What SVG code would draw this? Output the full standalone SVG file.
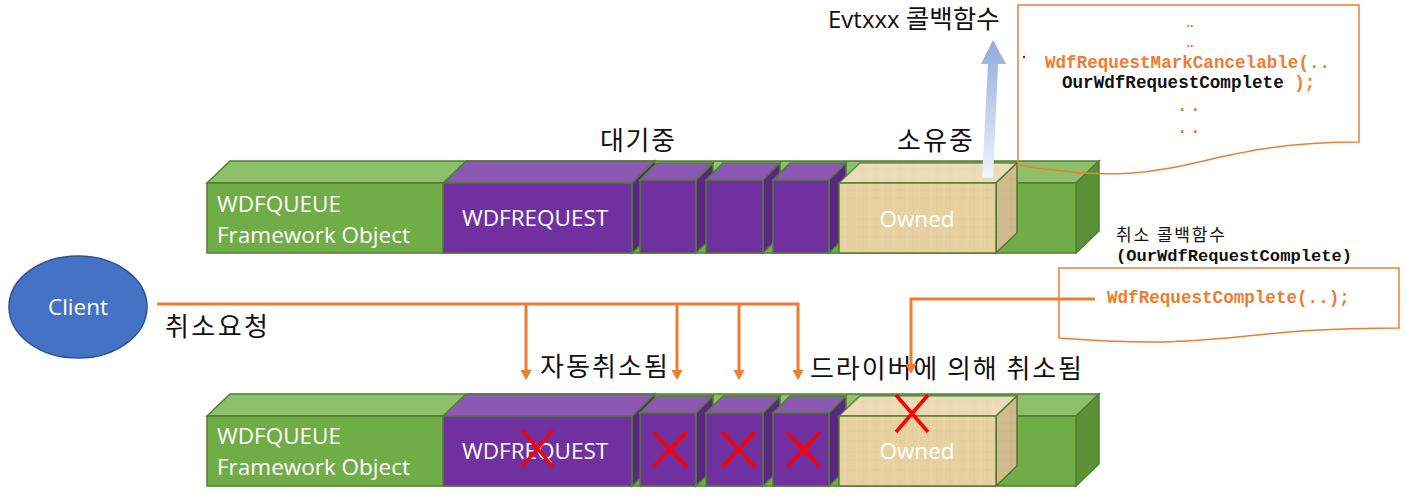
<svg xmlns="http://www.w3.org/2000/svg" width="1406" height="497" viewBox="0 0 1406 497">
<style>
.g-front{fill:#70AD47;stroke:#507E32;stroke-width:1.5}
.g-top{fill:#8CC06B;stroke:#507E32;stroke-width:1.5}
.g-side{fill:#5B9137;stroke:#507E32;stroke-width:1.5}
.p-front{fill:#7030A0;stroke:#507E32;stroke-width:1.5}
.p-top{fill:#8C58B4;stroke:#507E32;stroke-width:1.5}
.p-side{fill:#5A2683;stroke:#507E32;stroke-width:1.5}
.o-face{fill:url(#papyrus);stroke:#507E32;stroke-width:1.5}
.lite{fill:#FFFFFF;opacity:0.22}
.dark{fill:#5A4020;opacity:0.16}
.lbl{font-family:"Open Sans","Noto Sans",sans-serif;font-size:22.5px;fill:#FFFFFF}
.kr{font-family:"Noto Sans CJK KR",sans-serif;font-size:26px;fill:#111111}
.mono{font-family:"Liberation Mono","Courier New",monospace;font-weight:bold;font-size:17.6px}
.or{fill:#ED7D31}
.bk{fill:#111111}
.conn{fill:none;stroke:#ED7D31;stroke-width:3}
.doc{fill:none;stroke:#ED7D31;stroke-width:1.5}
.x{stroke:#FF0000;stroke-width:3.5;stroke-linecap:butt}
</style>
<defs>
<marker id="ah" viewBox="0 0 10 11" refX="1" refY="5.5" markerWidth="10" markerHeight="11" markerUnits="userSpaceOnUse" orient="auto">
<path d="M0,0 L10,5.5 L0,11 Z" fill="#ED7D31"/>
</marker>
<pattern id="papyrus" patternUnits="userSpaceOnUse" width="37" height="29">
<rect width="37" height="29" fill="#E7D1A0"/>
<path d="M0,5 H37 M0,16 H37 M0,24 H37" stroke="#D6BC86" stroke-width="0.7" opacity="0.25"/>
<path d="M6,0 V29 M19,0 V29 M31,0 V29" stroke="#F1E2BE" stroke-width="0.8" opacity="0.35"/>
<path d="M12,0 V29 M25,0 V29" stroke="#D0B37C" stroke-width="0.6" opacity="0.2"/>
</pattern>
<linearGradient id="blueArrow" x1="0" y1="1" x2="0" y2="0">
<stop offset="0" stop-color="#F2F5FB"/>
<stop offset="1" stop-color="#8FAADC"/>
</linearGradient>
</defs>
<rect width="1406" height="497" fill="#FFFFFF"/>

<!-- Top queue -->
<g id="top-wdfqueue">
<polygon class="g-top" points="207,183 230,161 1099,161 1076,183"/>
<polygon class="g-side" points="1076,183 1099,161 1099,231 1076,253"/>
<rect class="g-front" x="207" y="183" width="869" height="70"/>
<text class="lbl" x="217" y="212">WDFQUEUE</text>
<text class="lbl" x="217" y="243">Framework Object</text>
</g>
<g id="top-request">
<polygon class="p-top" points="443,183 466,161 655,161 632,183"/>
<polygon class="p-side" points="632,183 655,161 655,231 632,253"/>
<rect class="p-front" x="443" y="183" width="189" height="70"/>
<text class="lbl" x="462" y="226">WDFREQUEST</text>
</g>
<g id="top-req2">
<polygon class="p-top" points="640,180 657,163 713,163 696,180"/>
<polygon class="p-side" points="696,180 713,163 713,236 696,253"/>
<rect class="p-front" x="640" y="180" width="56" height="73"/>
</g>
<g id="top-req3">
<polygon class="p-top" points="706,180 723,163 780,163 763,180"/>
<polygon class="p-side" points="763,180 780,163 780,236 763,253"/>
<rect class="p-front" x="706" y="180" width="57" height="73"/>
</g>
<g id="top-req4">
<polygon class="p-top" points="773,180 790,163 846,163 829,180"/>
<polygon class="p-side" points="829,180 846,163 846,236 829,253"/>
<rect class="p-front" x="773" y="180" width="56" height="73"/>
</g>
<g id="top-owned">
<polygon class="o-face" points="839,183 860,163 1017,163 996,183"/>
<polygon class="lite" points="839,183 860,163 1017,163 996,183"/>
<polygon class="o-face" points="996,183 1017,163 1017,233 996,253"/>
<polygon class="dark" points="996,183 1017,163 1017,233 996,253"/>
<rect class="o-face" x="839" y="183" width="157" height="70"/>
<text class="lbl" x="917" y="227" text-anchor="middle">Owned</text>
</g>

<!-- Bottom queue -->
<g id="bottom-wdfqueue" transform="translate(0,233)">
<polygon class="g-top" points="207,183 230,161 1099,161 1076,183"/>
<polygon class="g-side" points="1076,183 1099,161 1099,231 1076,253"/>
<rect class="g-front" x="207" y="183" width="869" height="70"/>
<text class="lbl" x="217" y="211">WDFQUEUE</text>
<text class="lbl" x="217" y="242">Framework Object</text>
</g>
<g id="bottom-request" transform="translate(0,233)">
<polygon class="p-top" points="443,183 466,161 655,161 632,183"/>
<polygon class="p-side" points="632,183 655,161 655,231 632,253"/>
<rect class="p-front" x="443" y="183" width="189" height="70"/>
<text class="lbl" x="462" y="226">WDFREQUEST</text>
<path class="x" d="M522,197 L553,234 M553,197 L522,234"/>
</g>
<g id="bottom-req2" transform="translate(0,233)">
<polygon class="p-top" points="640,180 657,163 713,163 696,180"/>
<polygon class="p-side" points="696,180 713,163 713,236 696,253"/>
<rect class="p-front" x="640" y="180" width="56" height="73"/>
<path class="x" d="M653,199 L687,234 M687,199 L653,234"/>
</g>
<g id="bottom-req3" transform="translate(0,233)">
<polygon class="p-top" points="706,180 723,163 780,163 763,180"/>
<polygon class="p-side" points="763,180 780,163 780,236 763,253"/>
<rect class="p-front" x="706" y="180" width="57" height="73"/>
<path class="x" d="M722,199 L755,234 M755,199 L722,234"/>
</g>
<g id="bottom-req4" transform="translate(0,233)">
<polygon class="p-top" points="773,180 790,163 846,163 829,180"/>
<polygon class="p-side" points="829,180 846,163 846,236 829,253"/>
<rect class="p-front" x="773" y="180" width="56" height="73"/>
<path class="x" d="M787,199 L820,234 M820,199 L787,234"/>
</g>
<g id="bottom-owned" transform="translate(0,233)">
<polygon class="o-face" points="839,183 860,163 1017,163 996,183"/>
<polygon class="lite" points="839,183 860,163 1017,163 996,183"/>
<polygon class="o-face" points="996,183 1017,163 1017,233 996,253"/>
<polygon class="dark" points="996,183 1017,163 1017,233 996,253"/>
<rect class="o-face" x="839" y="183" width="157" height="70"/>
<text class="lbl" x="917" y="226" text-anchor="middle">Owned</text>
<path class="x" d="M896,162 L928,199 M928,162 L896,199"/>
</g>

<!-- Client -->
<g id="client">
<ellipse cx="78" cy="307" rx="69" ry="51" fill="#4472C4" stroke="#2F528F" stroke-width="1.5"/>
<text class="lbl" x="78" y="315" text-anchor="middle">Client</text>
</g>

<!-- Event callback code box -->
<g id="event-code">
<path class="doc" d="M1018,5 H1359 V142 C1188,142 1188,194 1018,165 Z"/>
<circle cx="1024" cy="57" r="1.2" fill="#C00000"/>
<text class="or" x="1190" y="27" text-anchor="middle" style="font-family:'Liberation Sans',sans-serif;font-weight:bold;font-size:13px">..</text>
<text class="or" x="1190" y="47" text-anchor="middle" style="font-family:'Liberation Sans',sans-serif;font-weight:bold;font-size:13px">..</text>
<text class="mono or" x="1045" y="68">WdfRequestMarkCancelable(..</text>
<text class="mono" x="1062" y="88"><tspan class="bk">OurWdfRequestComplete</tspan><tspan class="or"> );</tspan></text>
<text class="mono or" x="1190" y="111" text-anchor="middle" letter-spacing="2.5">..</text>
<text class="mono or" x="1190" y="133" text-anchor="middle" letter-spacing="2.5">..</text>
</g>

<!-- Cancel callback code box -->
<g id="cancel-code">
<text class="kr" x="1116" y="241" style="font-size:17px" textLength="109" lengthAdjust="spacing">취소 콜백함수</text>
<text class="mono bk" x="1116" y="261" style="font-size:17.1px">(OurWdfRequestComplete)</text>
<path class="doc" d="M1059,268 H1399 V328 C1229,328 1229,351 1059,338 Z"/>
<text class="mono or" x="1107" y="303">WdfRequestComplete(..);</text>
</g>

<!-- Labels -->
<g id="labels">
<text class="kr" x="600" y="150" textLength="75" lengthAdjust="spacing">대기중</text>
<text class="kr" x="897" y="150" textLength="76" lengthAdjust="spacing">소유중</text>
<text class="kr" x="828" y="28" style="font-family:'Open Sans','Noto Sans CJK KR',sans-serif;font-size:24px">Evtxxx <tspan style="font-family:'Noto Sans CJK KR',sans-serif;font-size:25.5px">콜백함수</tspan></text>
<text class="kr" x="165" y="336" textLength="103" lengthAdjust="spacing">취소요청</text>
<text class="kr" x="540" y="376" textLength="128" lengthAdjust="spacing">자동취소됨</text>
<text class="kr" x="810" y="378" textLength="272" lengthAdjust="spacing">드라이버에 의해 취소됨</text>
</g>

<!-- Connectors -->
<g id="connectors">
<polygon points="982,178 993,178 998,64 1006,64 993,40 981,64 988,64" fill="url(#blueArrow)"/>
<path class="conn" d="M157,304 H798 V371" marker-end="url(#ah)"/>
<path class="conn" d="M526,304 V371" marker-end="url(#ah)"/>
<path class="conn" d="M677,304 V371" marker-end="url(#ah)"/>
<path class="conn" d="M739,304 V371" marker-end="url(#ah)"/>
<path class="conn" d="M1095,299 H911 V365" marker-end="url(#ah)"/>
</g>
</svg>
